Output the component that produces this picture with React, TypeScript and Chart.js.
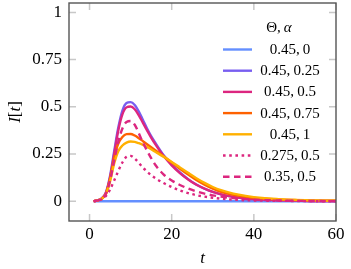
import { useEffect, useRef } from "react";
import { Chart, registerables } from "chart.js";

Chart.register(...registerables);

const tValues = [1, 2, 3, 4, 5, 6, 7, 8, 9, 10, 11, 12, 13, 14, 15, 16, 18, 20, 22, 24, 26, 28, 30, 32, 35, 38, 42, 46, 50, 55, 60];

const seriesLabels = ["0.45,\u20090", "0.45,\u20090.25", "0.45,\u20090.5", "0.45,\u20090.75", "0.45,\u20091", "0.275,\u20090.5", "0.35,\u20090.5"];

const blueValues = [0, 0, 0, 0, 0, 0, 0, 0, 0, 0, 0, 0, 0, 0, 0, 0, 0, 0, 0, 0, 0, 0, 0, 0, 0, 0, 0, 0, 0, 0, 0];
const violetValues = [0, 0.005, 0.016, 0.048, 0.135, 0.265, 0.39, 0.48, 0.52, 0.525, 0.51, 0.475, 0.43, 0.385, 0.345, 0.31, 0.245, 0.195, 0.152, 0.117, 0.088, 0.066, 0.049, 0.036, 0.023, 0.014, 0.008, 0.005, 0.003, 0.001, 0.001];
const magentaValues = [0, 0.004, 0.014, 0.044, 0.125, 0.25, 0.375, 0.46, 0.497, 0.502, 0.487, 0.455, 0.415, 0.375, 0.337, 0.302, 0.24, 0.19, 0.149, 0.115, 0.087, 0.066, 0.049, 0.036, 0.023, 0.014, 0.008, 0.005, 0.003, 0.001, 0.001];
const orangeValues = [0, 0.004, 0.014, 0.042, 0.12, 0.23, 0.305, 0.34, 0.355, 0.356, 0.348, 0.334, 0.318, 0.302, 0.286, 0.27, 0.238, 0.205, 0.172, 0.141, 0.112, 0.087, 0.066, 0.05, 0.034, 0.023, 0.014, 0.009, 0.006, 0.003, 0.002];
const yellowValues = [0, 0.004, 0.013, 0.038, 0.105, 0.2, 0.265, 0.295, 0.31, 0.316, 0.314, 0.307, 0.298, 0.287, 0.275, 0.262, 0.236, 0.208, 0.179, 0.15, 0.122, 0.097, 0.075, 0.058, 0.04, 0.028, 0.017, 0.011, 0.007, 0.004, 0.002];
const dottedValues = [0, 0.003, 0.01, 0.028, 0.062, 0.11, 0.16, 0.205, 0.235, 0.24, 0.226, 0.203, 0.178, 0.157, 0.138, 0.122, 0.096, 0.075, 0.057, 0.043, 0.032, 0.024, 0.018, 0.013, 0.008, 0.005, 0.003, 0.002, 0.001, 0, 0];
const dashedValues = [0, 0.004, 0.013, 0.04, 0.11, 0.215, 0.315, 0.385, 0.42, 0.425, 0.405, 0.36, 0.31, 0.268, 0.228, 0.193, 0.142, 0.11, 0.086, 0.067, 0.052, 0.04, 0.031, 0.024, 0.016, 0.011, 0.006, 0.004, 0.002, 0.001, 0];

const xTicks = [0, 20, 40, 60];
const xTickLabels = ["0", "20", "40", "60"];
const yTicks = [0, 0.25, 0.5, 0.75, 1];
const yTickLabels = ["0", "0.25", "0.5", "0.75", "1"];

const FAMILY = '"Liberation Serif", "Times New Roman", serif';

const seriesStyles = [
  { color: "#648FFF", dash: [] as number[] },
  { color: "#785EF0", dash: [] as number[] },
  { color: "#DC267F", dash: [] as number[] },
  { color: "#FE6100", dash: [] as number[] },
  { color: "#FFB000", dash: [] as number[] },
  { color: "#DC267F", dash: [2.6, 3.6] },
  { color: "#DC267F", dash: [6.5, 4.5] },
];

const allValues = [blueValues, violetValues, magentaValues, orangeValues, yellowValues, dottedValues, dashedValues];

const decorPlugin = {
  id: "decor",
  beforeDatasetsDraw(chart: any) {
    const { ctx, chartArea: a, scales } = chart;
    const L = 7;
    ctx.save();
    ctx.strokeStyle = "#c8c8c8";
    ctx.lineWidth = 1.5;
    ctx.beginPath();
    for (const v of xTicks) {
      const px = scales.x.getPixelForValue(v);
      ctx.moveTo(px, a.bottom);
      ctx.lineTo(px, a.bottom - L);
      ctx.moveTo(px, a.top);
      ctx.lineTo(px, a.top + L);
    }
    for (const v of yTicks) {
      const py = scales.y.getPixelForValue(v);
      ctx.moveTo(a.left, py);
      ctx.lineTo(a.left + L, py);
      ctx.moveTo(a.right, py);
      ctx.lineTo(a.right - L, py);
    }
    ctx.stroke();
    ctx.restore();
  },
  afterDatasetsDraw(chart: any) {
    const { ctx, chartArea: a } = chart;
    ctx.save();
    ctx.strokeStyle = "#555555";
    ctx.lineWidth = 1.4;
    ctx.strokeRect(a.left, a.top, a.right - a.left, a.bottom - a.top);
    ctx.restore();
  },
  afterDraw(chart: any) {
    const { ctx, chartArea: a } = chart;
    ctx.save();
    ctx.fillStyle = "#000";
    // legend title "Θ, α"
    const tf = `15px ${FAMILY}`;
    const tfi = `italic 15px ${FAMILY}`;
    ctx.font = tf;
    const p1 = "\u0398,\u2009";
    const w1 = ctx.measureText(p1).width;
    ctx.font = tfi;
    const w2 = ctx.measureText("\u03b1").width;
    const tcx = a.right - 57;
    const ty = a.top + 25;
    ctx.textBaseline = "middle";
    ctx.textAlign = "left";
    ctx.font = tf;
    ctx.fillText(p1, tcx - (w1 + w2) / 2, ty);
    ctx.font = tfi;
    ctx.fillText("\u03b1", tcx - (w1 + w2) / 2 + w1, ty);

    // legend rows
    chart.data.datasets.forEach((ds: any, i: number) => {
      const y = a.top + 46.5 + i * 21.2;
      ctx.beginPath();
      ctx.setLineDash(ds.borderDash || []);
      ctx.strokeStyle = ds.borderColor;
      ctx.lineWidth = ds.borderWidth;
      ctx.moveTo(a.right - 113, y);
      ctx.lineTo(a.right - 84, y);
      ctx.stroke();
      ctx.setLineDash([]);
      ctx.font = `15px ${FAMILY}`;
      ctx.textAlign = "center";
      ctx.textBaseline = "middle";
      ctx.fillStyle = "#000";
      ctx.fillText(ds.label, a.right - 46, y + 0.5);
    });

    // y title "I[t]"
    const parts: [string, boolean][] = [["I", true], ["[", false], ["t", true], ["]", false]];
    const fs = 17;
    let total = 0;
    const widths = parts.map(([s, it]) => {
      ctx.font = `${it ? "italic " : ""}${fs}px ${FAMILY}`;
      const w = ctx.measureText(s).width;
      total += w;
      return w;
    });
    ctx.save();
    ctx.translate(20, (a.top + a.bottom) / 2);
    ctx.rotate(-Math.PI / 2);
    ctx.textAlign = "left";
    ctx.textBaseline = "alphabetic";
    let x = -total / 2;
    parts.forEach(([s, it], k) => {
      ctx.font = `${it ? "italic " : ""}${fs}px ${FAMILY}`;
      ctx.fillText(s, x, 0);
      x += widths[k];
    });
    ctx.restore();

    // x title "t"
    ctx.font = `italic ${fs}px ${FAMILY}`;
    ctx.textAlign = "center";
    ctx.textBaseline = "alphabetic";
    ctx.fillText("t", (a.left + a.right) / 2, 263);
    ctx.restore();
  },
};

export default function App() {
  const ref = useRef<HTMLCanvasElement | null>(null);
  useEffect(() => {
    if (!ref.current) return;
    const datasets = allValues.map((vals, i) => ({
      label: seriesLabels[i],
      data: tValues.map((t, k) => ({ x: t, y: vals[k] })),
      borderColor: seriesStyles[i].color,
      backgroundColor: seriesStyles[i].color,
      borderDash: seriesStyles[i].dash,
      borderWidth: 2.4,
      pointRadius: 0,
      fill: false,
      cubicInterpolationMode: "monotone" as const,
      order: 20 - i,
    }));
    const chart = new Chart(ref.current, {
      type: "line",
      data: { datasets },
      options: {
        animation: false,
        responsive: false,
        devicePixelRatio: 1,
        layout: { padding: { top: 3, right: 15, bottom: 0, left: 0 } },
        plugins: { legend: { display: false }, tooltip: { enabled: false } },
        scales: {
          x: {
            type: "linear",
            min: -5,
            max: 60,
            afterBuildTicks: (s: any) => {
              s.ticks = xTicks.map((v) => ({ value: v }));
            },
            afterFit: (s: any) => {
              s.height = 48;
              s.paddingLeft = 0;
              s.paddingRight = 0;
            },
            ticks: {
              font: { family: FAMILY, size: 17 },
              color: "#000",
              padding: 3,
              maxRotation: 0,
              autoSkip: false,
              callback: (v: any) => xTickLabels[xTicks.indexOf(Number(v))] ?? "",
            },
            grid: { display: false, drawTicks: false },
            border: { display: false },
          },
          y: {
            type: "linear",
            min: -0.105,
            max: 1.05,
            afterBuildTicks: (s: any) => {
              s.ticks = yTicks.map((v) => ({ value: v }));
            },
            afterFit: (s: any) => {
              s.width = 69;
              s.paddingTop = 0;
              s.paddingBottom = 0;
            },
            ticks: {
              font: { family: FAMILY, size: 17 },
              color: "#000",
              padding: 7,
              autoSkip: false,
              callback: (v: any) => yTickLabels[yTicks.indexOf(Number(v))] ?? "",
            },
            grid: { display: false, drawTicks: false },
            border: { display: false },
          },
        },
      },
      plugins: [decorPlugin],
    });
    return () => chart.destroy();
  }, []);
  return (
    <div style={{ position: "absolute", left: 0, top: 0, width: 351, height: 269 }}>
      <canvas ref={ref} width={351} height={269} style={{ display: "block" }} />
    </div>
  );
}
